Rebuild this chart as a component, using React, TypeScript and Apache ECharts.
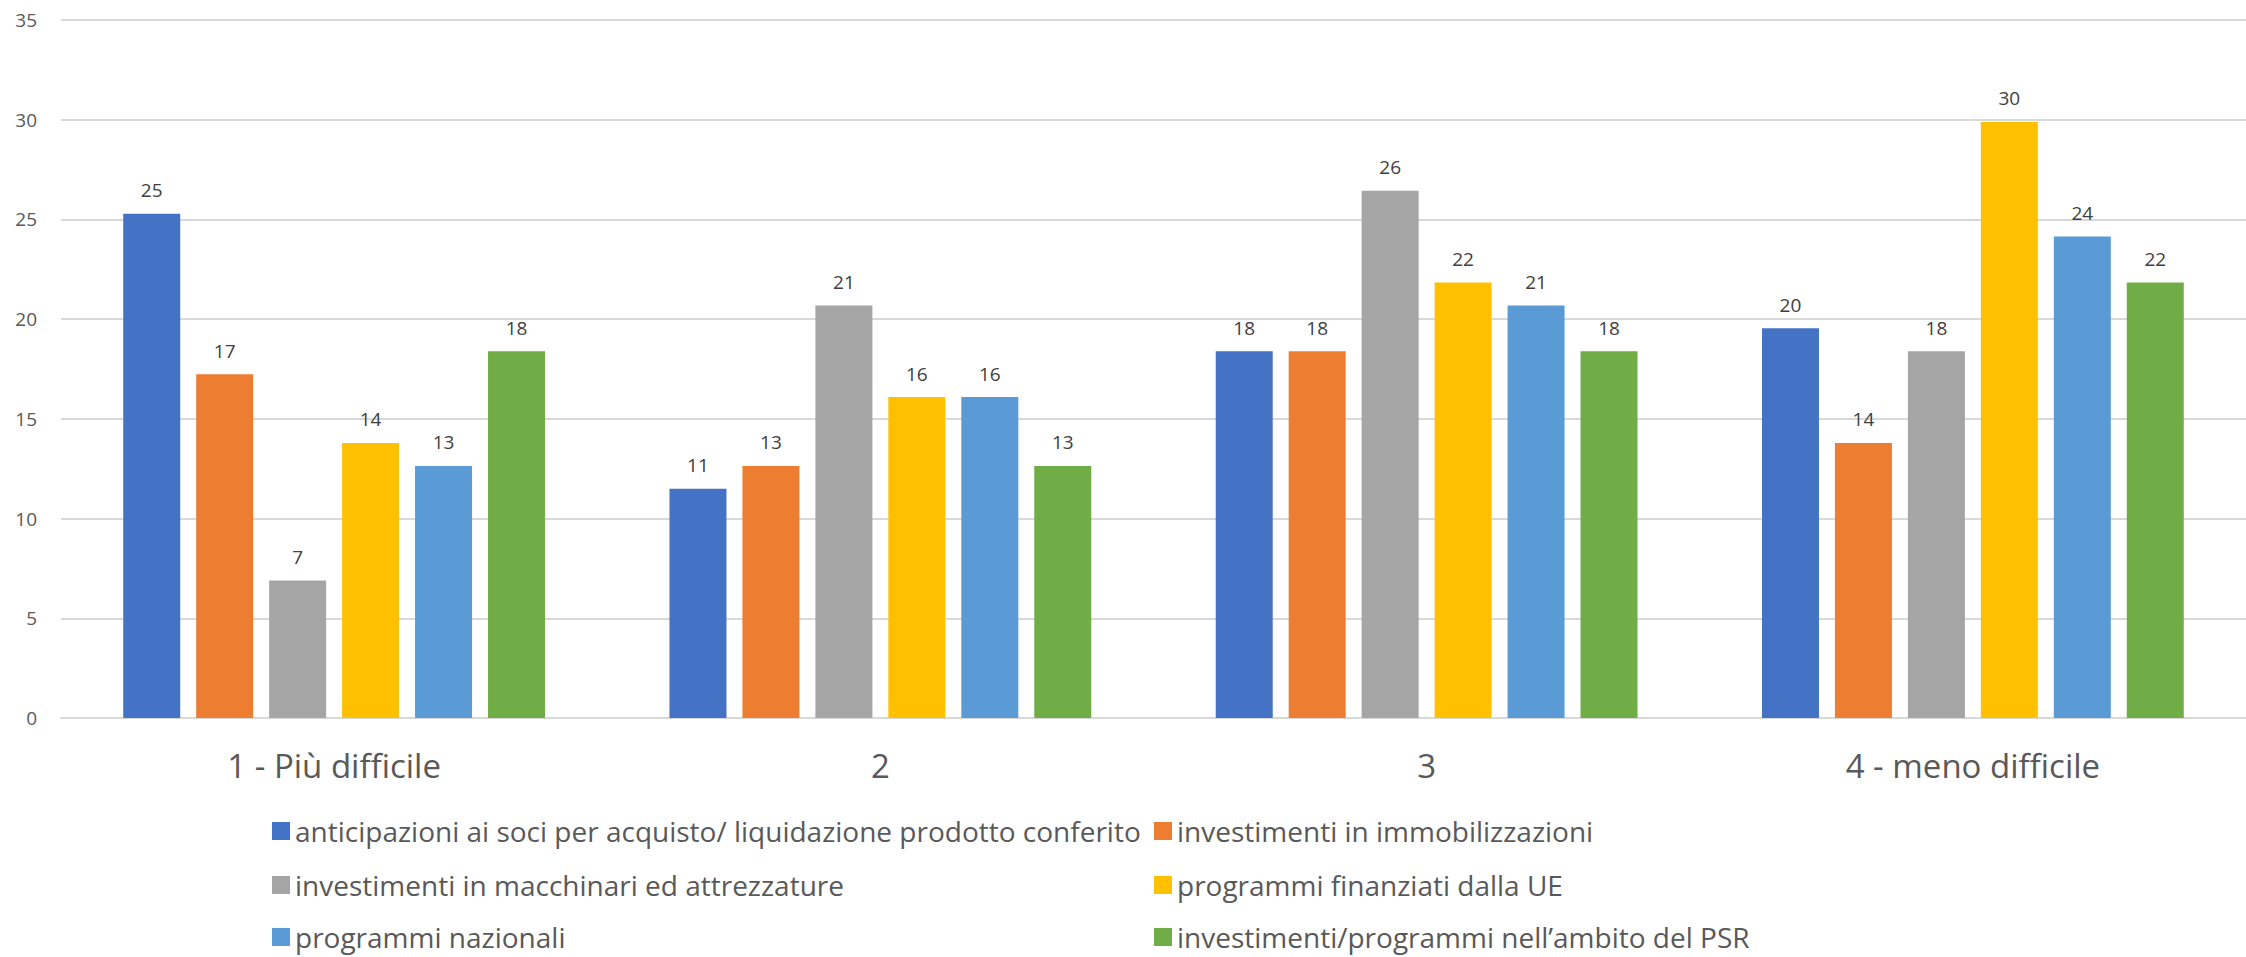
import React, { useEffect, useRef } from "react";
import * as echarts from "echarts";

// Difficulty levels on the category axis
const categories: string[] = ["1 - Più difficile", "2", "3", "4 - meno difficile"];

// Series names (legend order)
const seriesNames: string[] = [
  "anticipazioni ai soci per acquisto/ liquidazione prodotto conferito",
  "investimenti in immobilizzazioni",
  "investimenti in macchinari ed attrezzature",
  "programmi finanziati dalla UE",
  "programmi nazionali",
  "investimenti/programmi nell’ambito del PSR",
];

// Percentages per difficulty level, one array per series
const anticipazioni: number[] = [25.29, 11.49, 18.39, 19.54];
const immobilizzazioni: number[] = [17.24, 12.64, 18.39, 13.79];
const macchinari: number[] = [6.9, 20.69, 26.44, 18.39];
const programmiUE: number[] = [13.79, 16.09, 21.84, 29.89];
const programmiNazionali: number[] = [12.64, 16.09, 20.69, 24.14];
const programmiPSR: number[] = [18.39, 12.64, 18.39, 21.84];

const seriesValues: number[][] = [
  anticipazioni,
  immobilizzazioni,
  macchinari,
  programmiUE,
  programmiNazionali,
  programmiPSR,
];

const colors: string[] = ["#4472C4", "#ED7D31", "#A5A5A5", "#FFC000", "#5B9BD5", "#70AD47"];

// Y axis range
const yMin = 0;
const yMax = 35;
const yStep = 5;

const FONT = "'Open Sans', 'Noto Sans', sans-serif";

// Legend laid out in two columns, three rows
const legendColumns = [272, 1154];
const legendRows = [816, 870, 922];

export default function App() {
  const ref = useRef<HTMLDivElement>(null);

  useEffect(() => {
    if (!ref.current) return;
    const chart = echarts.init(ref.current, undefined, { renderer: "svg" });

    const legendText = { color: "#595959", fontSize: 28, fontFamily: FONT, lineHeight: 30 };

    const legends = seriesNames.map((name, i) => ({
      orient: "horizontal",
      left: legendColumns[i % 2],
      top: legendRows[Math.floor(i / 2)],
      padding: 0,
      icon: "rect",
      itemWidth: 18,
      itemHeight: 18,
      selectedMode: false,
      textStyle: legendText,
      data: [name],
    }));

    chart.setOption({
      animation: false,
      color: colors,
      textStyle: { fontFamily: FONT },
      grid: { left: 61, top: 20, width: 2200, height: 698, containLabel: false },
      legend: legends,
      xAxis: {
        type: "category",
        data: categories,
        axisTick: { show: false },
        axisLine: { show: true, lineStyle: { color: "#D9D9D9", width: 2 } },
        axisLabel: { color: "#595959", fontSize: 33, fontFamily: FONT, margin: 31 },
      },
      yAxis: {
        type: "value",
        min: yMin,
        max: yMax,
        interval: yStep,
        axisLine: { show: false },
        axisTick: { show: false },
        axisLabel: { color: "#595959", fontSize: 19, fontFamily: FONT, margin: 24 },
        splitLine: { lineStyle: { color: "#D9D9D9", width: 2 } },
      },
      series: seriesNames.map((name, i) => ({
        name,
        type: "bar",
        data: seriesValues[i],
        barWidth: 57,
        barGap: "28%",
        itemStyle: { color: colors[i] },
        label: {
          show: true,
          position: "top",
          distance: 14,
          color: "#404040",
          fontSize: 19,
          fontFamily: FONT,
          formatter: (p: any) => String(Math.round(p.value)),
        },
      })),
    });

    return () => chart.dispose();
  }, []);

  return (
    <div
      ref={ref}
      style={{ position: "absolute", left: 0, top: 0, width: 2246, height: 957, background: "#ffffff" }}
    />
  );
}
